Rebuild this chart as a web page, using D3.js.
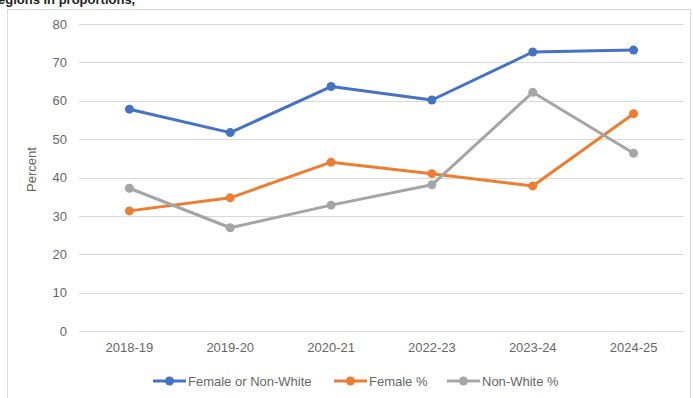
<!DOCTYPE html>
<html>
<head>
<meta charset="utf-8">
<script src="https://cdn.jsdelivr.net/npm/d3@7"></script>
<style>
  body { margin: 0; background: #fff; }
  svg { display: block; font-family: "Liberation Sans", Arial, sans-serif; }
</style>
</head>
<body>
<div id="chart"></div>
<script>
// Chart data
const years = ["2018-19", "2019-20", "2020-21", "2022-23", "2023-24", "2024-25"];
const femaleOrNonWhite = [57.8, 51.7, 63.7, 60.2, 72.7, 73.2];
const femalePct = [31.3, 34.7, 44.0, 41.0, 37.8, 56.6];
const nonWhitePct = [37.2, 26.9, 32.8, 38.1, 62.2, 46.3];
const yTicks = [0, 10, 20, 30, 40, 50, 60, 70, 80];

const series = [
  { name: "Female or Non-White", values: femaleOrNonWhite, color: "#4472C4" },
  { name: "Female %", values: femalePct, color: "#ED7D31" },
  { name: "Non-White %", values: nonWhitePct, color: "#A5A5A5" }
];

const width = 693, height = 398;
const margin = { top: 24, right: 9, bottom: 67, left: 79 };

const svg = d3.select("#chart").append("svg")
  .attr("width", width)
  .attr("height", height);

// Outer chart frame
svg.append("rect")
  .attr("x", 7.5).attr("y", 9.5)
  .attr("width", 683).attr("height", 400)
  .attr("fill", "none")
  .attr("stroke", "#d9d9d9");

// Title, clipped at the top of the image as in the source screenshot
svg.append("text")
  .attr("x", -2).attr("y", 4)
  .attr("font-size", 13)
  .attr("font-weight", "bold")
  .attr("fill", "#222")
  .text("egions in proportions,");

const x = d3.scaleBand()
  .domain(years)
  .range([margin.left, width - margin.right]);

const y = d3.scaleLinear()
  .domain([0, 80])
  .range([height - margin.bottom, margin.top]);

// Gridlines
svg.append("g")
  .selectAll("line")
  .data(yTicks)
  .join("line")
  .attr("x1", margin.left)
  .attr("x2", width - margin.right)
  .attr("y1", d => Math.round(y(d)) + 0.5)
  .attr("y2", d => Math.round(y(d)) + 0.5)
  .attr("stroke", "#d9d9d9")
  .attr("stroke-width", 1.2);

// Y axis labels
const yAxis = svg.append("g")
  .attr("transform", `translate(${margin.left},0)`)
  .call(d3.axisLeft(y).tickValues(yTicks).tickSize(0).tickPadding(12));
yAxis.select(".domain").remove();
yAxis.selectAll("text")
  .attr("font-size", 13)
  .attr("font-family", "Liberation Sans, Arial, sans-serif")
  .attr("fill", "#666");

// X axis labels
const xAxis = svg.append("g")
  .attr("transform", `translate(0,${height - margin.bottom})`)
  .call(d3.axisBottom(x).tickSize(0).tickPadding(12));
xAxis.select(".domain").remove();
xAxis.selectAll("text")
  .attr("font-size", 13)
  .attr("font-family", "Liberation Sans, Arial, sans-serif")
  .attr("fill", "#666");

// Y axis title
svg.append("text")
  .attr("transform", `translate(36,${y(40) - 8}) rotate(-90)`)
  .attr("text-anchor", "middle")
  .attr("font-size", 13)
  .attr("fill", "#666")
  .text("Percent");

const line = d3.line()
  .x((d, i) => x(years[i]) + x.bandwidth() / 2)
  .y(d => y(d));

const lines = svg.append("g");
series.forEach(s => {
  lines.append("path")
    .datum(s.values)
    .attr("d", line)
    .attr("fill", "none")
    .attr("stroke", s.color)
    .attr("stroke-width", 3)
    .attr("stroke-linejoin", "round");
  lines.append("g")
    .selectAll("circle")
    .data(s.values)
    .join("circle")
    .attr("cx", (d, i) => x(years[i]) + x.bandwidth() / 2)
    .attr("cy", d => y(d))
    .attr("r", 4.5)
    .attr("fill", s.color);
});

// Legend
const legendX = [153, 334, 447];
const legend = svg.append("g")
  .selectAll("g")
  .data(series)
  .join("g")
  .attr("transform", (d, i) => `translate(${legendX[i]},381)`);
legend.append("line")
  .attr("x1", 0).attr("x2", 33)
  .attr("stroke", d => d.color)
  .attr("stroke-width", 3);
legend.append("circle")
  .attr("cx", 16.5).attr("r", 4.5)
  .attr("fill", d => d.color);
legend.append("text")
  .attr("x", 35).attr("dy", "0.35em")
  .attr("font-size", 13)
  .attr("fill", "#666")
  .text(d => d.name);
</script>
</body>
</html>
